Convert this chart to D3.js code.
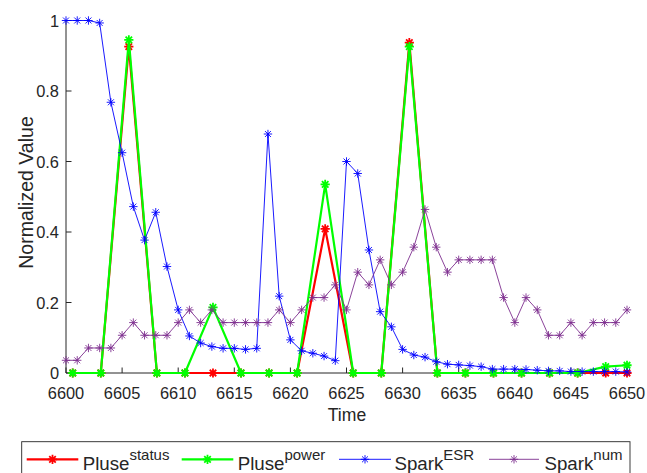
<!DOCTYPE html>
<html><head><meta charset="utf-8">
<script src="https://cdn.jsdelivr.net/npm/d3@7"></script>
<style>body{margin:0;background:#fff}text{font-family:"Liberation Sans",Arial,sans-serif;fill:#262626}</style>
</head><body><svg id="c" width="647" height="473"></svg>
<script>
const sparkTimes = d3.range(6600, 6651);
const pulseTimes = [6600.6,6603.1,6605.6,6608.1,6610.6,6613.1,6615.6,6618.1,6620.6,6623.1,6625.6,6628.1,6630.6,6633.1,6635.6,6638.1,6640.6,6643.1,6645.6,6648.1,6650];
const pulseStatus = [0,0,0.926,0,0,0,0,0,0,0.409,0,0,0.937,0,0,0,0,0,0,0,0];
const pulsePower  = [0,0,0.945,0,0,0.186,0,0,0,0.535,0,0,0.926,0,0,0,0,0,0,0.018,0.022];
const sparkESR = [1,1,1,0.993,0.768,0.625,0.472,0.377,0.456,0.302,0.179,0.105,0.085,0.075,0.07,0.07,0.067,0.07,0.678,0.218,0.094,0.063,0.056,0.048,0.035,0.6,0.566,0.349,0.174,0.131,0.067,0.051,0.045,0.032,0.025,0.023,0.021,0.018,0.011,0.011,0.011,0.01,0.008,0.006,0.006,0.004,0.004,0.004,0.004,0.004,0.003];
const sparkNum = [0.036,0.036,0.071,0.071,0.071,0.107,0.143,0.107,0.107,0.107,0.143,0.179,0.143,0.179,0.143,0.143,0.143,0.143,0.143,0.179,0.143,0.179,0.214,0.214,0.25,0.179,0.286,0.25,0.321,0.25,0.286,0.357,0.464,0.357,0.286,0.321,0.321,0.321,0.321,0.214,0.143,0.214,0.179,0.107,0.107,0.143,0.107,0.143,0.143,0.143,0.179];
const xTicks = [6600,6605,6610,6615,6620,6625,6630,6635,6640,6645,6650];
const yTicks = [0,0.2,0.4,0.6,0.8,1];
const seriesNames = [["Pluse","status"],["Pluse","power"],["Spark","ESR"],["Spark","num"]];

const svg = d3.select("#c");
const x = d3.scaleLinear().domain([6600,6650]).range([66,627]);
const y = d3.scaleLinear().domain([0,1]).range([373,20.5]);

const series = [
  {t:pulseTimes, v:pulseStatus, color:"#ff0000", lw:2.2, r:4.6, mw:1.8},
  {t:pulseTimes, v:pulsePower, color:"#00ff00", lw:2.2, r:4.6, mw:1.8},
  {t:sparkTimes, v:sparkESR, color:"#0000ff", lw:0.9, r:4.2, mw:0.9},
  {t:sparkTimes, v:sparkNum, color:"#7e2f8e", lw:0.9, r:4.2, mw:0.9}
];
function star(r){const d=r*0.707;return `M${-r},0L${r},0M0,${-r}L0,${r}M${-d},${-d}L${d},${d}M${-d},${d}L${d},${-d}`;}

// axes
const ax = svg.append("g");
ax.append("line").attr("x1",66).attr("x2",66).attr("y1",y(1)).attr("y2",y(0)).attr("stroke","#262626").attr("stroke-width",1);
ax.append("line").attr("x1",66).attr("x2",627).attr("y1",y(0)).attr("y2",y(0)).attr("stroke","#262626").attr("stroke-width",1);
xTicks.forEach(t=>{
  ax.append("line").attr("x1",x(t)).attr("x2",x(t)).attr("y1",y(0)).attr("y2",y(0)-5.5).attr("stroke","#262626");
  ax.append("text").attr("x",x(t)).attr("y",398.5).attr("text-anchor","middle").attr("font-size","16.4px").text(t);
});
yTicks.forEach(v=>{
  ax.append("line").attr("x1",66).attr("x2",71.5).attr("y1",y(v)).attr("y2",y(v)).attr("stroke","#262626");
  ax.append("text").attr("x",59).attr("y",y(v)+6).attr("text-anchor","end").attr("font-size","16.4px").text(v);
});
svg.append("text").attr("x",347).attr("y",421).attr("text-anchor","middle").attr("font-size","17.6px").text("Time");
svg.append("text").attr("transform","translate(33,192.5) rotate(-90)").attr("text-anchor","middle").attr("font-size","19.5px").text("Normalized Value");

// series
series.forEach(s=>{
  const pts = s.t.map((t,i)=>[x(t),y(s.v[i])]);
  svg.append("path").attr("d",d3.line()(pts)).attr("fill","none").attr("stroke",s.color).attr("stroke-width",s.lw).attr("stroke-linejoin","round");
  svg.append("g").selectAll("path").data(pts).join("path")
    .attr("transform",d=>`translate(${d[0]},${d[1]})`).attr("d",star(s.r))
    .attr("stroke",s.color).attr("stroke-width",s.mw).attr("fill","none");
});

// legend
const lg = svg.append("g");
lg.append("rect").attr("x",21.7).attr("y",441.7).attr("width",608.3).attr("height",60).attr("fill","#fff").attr("stroke","#262626").attr("stroke-width",0.9);
const legX = [[26.7,78.3,82.7],[181.7,233.3,237.7],[339,391,394.5],[489,539,544.5]];
series.forEach((s,i)=>{
  const [a,b,tx]=legX[i];
  lg.append("line").attr("x1",a).attr("x2",b).attr("y1",459.3).attr("y2",459.3).attr("stroke",s.color).attr("stroke-width",s.lw);
  lg.append("path").attr("transform",`translate(${(a+b)/2},459.3)`).attr("d",star(s.r)).attr("stroke",s.color).attr("stroke-width",s.mw).attr("fill","none");
  const t = lg.append("text").attr("x",tx).attr("y",470).attr("font-size","18.7px");
  t.append("tspan").text(seriesNames[i][0]);
  t.append("tspan").attr("dy",-10).attr("font-size","15px").text(seriesNames[i][1]);
});
</script></body></html>
